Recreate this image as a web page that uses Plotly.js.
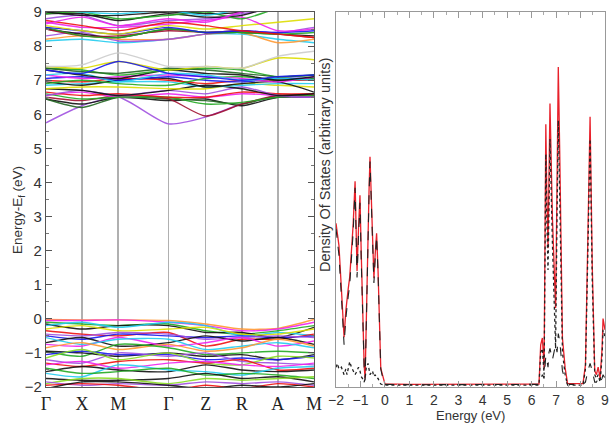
<!DOCTYPE html>
<html>
<head>
<meta charset="utf-8">
<script src="https://cdn.plot.ly/plotly-3.0.1.min.js"></script>
<style>html,body{margin:0;padding:0;background:#fff}#chart{width:611px;height:424px}</style>
</head>
<body>
<div id="chart"></div>
<script>
// High-symmetry k-path
const kLabels = ['Γ','X','M','Γ','Z','R','A','M'];
const kPos = [0, 1, 2, 3.39, 4.42, 5.42, 6.42, 7.42];

// Valence bands (eV) at Γ X M Γ Z R A M
const valenceBands = [
  [-0.02,-0.03,-0.03,-0.05,-0.15,-0.30,-0.28,-0.02],
  [-0.05,-0.05,-0.03,-0.10,-0.20,-0.35,-0.30,-0.10],
  [-0.10,-0.15,-0.20,-0.15,-0.35,-0.45,-0.35,-0.20],
  [-0.15,-0.30,-0.20,-0.20,-0.40,-0.40,-0.55,-0.25],
  [-0.20,-0.10,-0.25,-0.10,-0.20,-0.50,-0.40,-0.50],
  [-0.30,-0.20,-0.35,-0.30,-0.25,-0.45,-0.45,-0.30],
  [-0.35,-0.45,-0.50,-0.40,-0.80,-0.60,-0.60,-0.45],
  [-0.50,-0.60,-0.45,-0.50,-0.55,-0.50,-0.55,-0.50],
  [-0.45,-0.50,-0.40,-0.45,-0.60,-0.55,-0.50,-0.55],
  [-0.70,-0.55,-0.80,-0.70,-0.50,-0.65,-0.55,-0.75],
  [-0.75,-0.80,-0.55,-0.80,-0.70,-0.55,-0.80,-0.65],
  [-0.55,-0.75,-0.60,-0.60,-0.90,-0.80,-0.70,-0.85],
  [-0.85,-0.70,-0.90,-0.75,-0.95,-0.85,-0.60,-0.80],
  [-0.95,-1.10,-0.75,-0.85,-1.05,-1.00,-0.95,-1.00],
  [-0.95,-1.00,-1.10,-1.00,-1.10,-1.05,-1.20,-1.05],
  [-1.05,-0.95,-1.05,-1.05,-1.20,-1.15,-1.20,-1.10],
  [-1.20,-1.30,-1.00,-1.10,-1.00,-1.25,-1.30,-1.35],
  [-1.15,-0.90,-1.20,-1.00,-1.30,-1.35,-1.10,-1.15],
  [-1.30,-1.40,-1.25,-1.20,-1.30,-1.20,-1.50,-1.45],
  [-1.35,-1.25,-1.45,-1.30,-1.25,-1.35,-1.40,-1.30],
  [-1.55,-1.40,-1.50,-1.55,-1.35,-1.50,-1.55,-1.50],
  [-1.60,-1.70,-1.35,-1.50,-1.55,-1.65,-1.45,-1.40],
  [-1.45,-1.60,-1.55,-1.45,-1.65,-1.60,-1.65,-1.75],
  [-1.75,-1.80,-1.80,-1.75,-1.60,-1.75,-1.70,-1.85],
  [-1.90,-1.75,-1.75,-1.90,-1.75,-1.80,-1.75,-1.70],
  [-1.85,-1.95,-1.90,-1.95,-1.85,-1.90,-1.85,-1.95],
  [-1.95,-1.90,-1.95,-2.10,-1.95,-2.05,-1.90,-2.00],
  [-2.05,-1.85,-1.85,-1.95,-2.05,-1.95,-2.00,-1.90]
];
const valenceColors = ['orange','magenta','green','black','cyan','yellow','red','blue','purple','black',
  'magenta','cyan','orange','green','black','blue','purple','lime','red','magenta',
  'black','cyan','green','black','lime','purple','red','black'];

// Conduction bands (eV) at Γ X M Γ Z R A M
const conductionBands = [
  [5.75,6.25,6.50,5.72,5.92,6.30,6.50,6.50],
  [6.45,6.30,6.50,6.40,6.45,6.25,6.50,6.50],
  [6.45,6.20,6.50,6.45,6.40,6.30,6.55,6.55],
  [6.50,6.40,6.55,6.45,5.95,6.30,6.55,6.55],
  [6.55,6.65,6.50,6.60,6.50,6.60,6.55,6.50],
  [6.60,6.45,6.50,6.50,6.30,6.35,6.50,6.55],
  [6.65,6.55,6.60,6.50,6.50,6.65,6.60,6.60],
  [6.55,6.70,6.55,6.70,6.60,6.80,6.55,6.50],
  [6.75,6.70,6.55,6.70,6.85,6.75,6.55,6.60],
  [6.75,6.80,6.80,6.75,6.75,6.90,6.85,6.80],
  [6.85,6.90,6.95,6.95,6.80,6.85,6.90,6.90],
  [6.95,6.85,7.00,7.05,6.80,6.90,6.95,6.65],
  [7.00,6.95,7.05,7.00,6.90,7.00,7.00,7.00],
  [7.05,7.10,7.00,7.10,7.00,6.95,7.05,7.05],
  [6.90,7.00,6.90,6.85,7.05,7.10,7.00,7.05],
  [7.15,7.05,7.10,7.15,7.10,7.05,6.95,7.10],
  [7.15,7.20,6.95,7.20,7.15,7.00,7.05,7.00],
  [7.30,7.15,7.05,7.30,7.20,7.15,7.00,7.10],
  [7.35,7.30,7.15,7.30,7.35,7.30,7.10,7.15],
  [7.35,7.25,7.20,7.35,7.30,7.20,7.10,7.15],
  [7.40,7.35,7.55,7.30,7.40,7.35,7.65,7.60],
  [7.30,7.20,7.55,7.20,7.10,7.00,7.10,7.15],
  [7.40,7.45,7.80,7.40,7.40,7.35,7.70,7.85],
  [8.15,8.20,8.10,8.20,8.35,8.35,8.20,8.10],
  [8.20,8.30,8.20,8.20,8.35,8.40,8.10,8.20],
  [8.30,8.40,8.15,8.20,8.35,8.45,8.40,8.55],
  [8.50,8.35,8.25,8.50,8.40,8.40,8.35,8.30],
  [8.50,8.30,8.30,8.45,8.40,8.45,8.35,8.25],
  [8.55,8.30,8.25,8.50,8.40,8.40,8.35,8.40],
  [8.55,8.45,8.35,8.55,8.40,8.45,8.40,8.45],
  [8.60,8.45,8.35,8.60,8.50,8.60,8.70,8.80],
  [8.70,8.55,8.55,8.65,8.75,8.85,8.45,8.50],
  [8.75,8.60,8.45,8.70,8.60,8.45,8.35,8.25],
  [8.80,8.90,8.60,8.75,8.80,8.95,9.10,9.20],
  [8.95,8.95,8.75,8.95,8.85,8.90,9.20,9.30],
  [8.95,9.00,8.80,8.90,9.00,8.80,9.10,9.20],
  [9.00,8.90,8.90,9.00,8.95,9.00,9.30,9.20],
  [9.10,9.00,8.95,9.05,8.90,9.10,9.30,9.30],
  [8.65,8.85,8.60,8.80,8.70,9.00,9.20,9.30]
];
const conductionColors = ['purple','black','darkgreen','darkred','magenta','green','red','purple','black','yellow',
  'cyan','black','red','blue','green','magenta','cyan','black','green','darkgreen',
  'yellow','blue','lightgray','cyan','orange','purple','black','darkred','green','blue',
  'yellow','magenta','red','purple','black','green','black','cyan','magenta'];

// Density of states (arbitrary units)
const dosEnergy = [-2,-1.94,-1.88,-1.78,-1.67,-1.6,-1.55,-1.5,-1.44,-1.37,-1.3,-1.22,-1.18,-1.14,-1.08,-1.02,-0.97,-0.92,-0.85,-0.81,-0.76,-0.69,-0.65,-0.61,-0.56,-0.51,-0.45,-0.4,-0.34,-0.28,-0.22,-0.17,-0.12,-0.08,0,1,2,3,4,5,6,6.3,6.37,6.44,6.51,6.58,6.62,6.67,6.71,6.75,6.85,6.98,7.04,7.09,7.15,7.2,7.26,7.37,7.47,8.1,8.2,8.3,8.39,8.48,8.58,8.65,8.72,8.8,8.88,8.92,9];
const dosTotal = [0.435,0.40,0.376,0.26,0.13,0.20,0.243,0.26,0.29,0.36,0.43,0.547,0.42,0.307,0.42,0.51,0.36,0.22,0.056,0.02,0.20,0.395,0.52,0.613,0.50,0.395,0.288,0.35,0.408,0.307,0.17,0.048,0.035,0.027,0.005,0.004,0.004,0.004,0.004,0.004,0.004,0.005,0.11,0.128,0.048,0.70,0.52,0.368,0.56,0.755,0.45,0.208,0.55,0.853,0.62,0.41,0.128,0.048,0.006,0.006,0.056,0.40,0.72,0.32,0.04,0.03,0.05,0.02,0.10,0.18,0.15];
const dosOxygen = [0.42,0.38,0.35,0.24,0.11,0.18,0.22,0.24,0.27,0.34,0.41,0.53,0.40,0.29,0.40,0.49,0.34,0.21,0.05,0.015,0.19,0.38,0.51,0.60,0.49,0.38,0.275,0.34,0.40,0.30,0.165,0.045,0.03,0.02,0.004,0.003,0.003,0.003,0.003,0.003,0.003,0.004,0.02,0.03,0.02,0.08,0.07,0.05,0.09,0.10,0.07,0.11,0.09,0.14,0.12,0.08,0.04,0.015,0.004,0.004,0.01,0.04,0.06,0.04,0.01,0.01,0.02,0.01,0.02,0.03,0.02];
const dosMetal = [0.05,0.06,0.045,0.05,0.03,0.045,0.03,0.05,0.065,0.05,0.04,0.03,0.035,0.04,0.05,0.04,0.025,0.02,0.01,0.02,0.05,0.06,0.045,0.03,0.035,0.04,0.025,0.03,0.02,0.02,0.01,0.005,0.004,0.003,0.002,0.002,0.002,0.002,0.002,0.002,0.002,0.002,0.09,0.10,0.03,0.62,0.45,0.31,0.47,0.66,0.38,0.10,0.46,0.71,0.50,0.33,0.09,0.03,0.002,0.002,0.045,0.36,0.66,0.28,0.03,0.02,0.03,0.01,0.08,0.15,0.13];

const palette = {black:'#111111', red:'#ee1111', green:'#22aa22', blue:'#1a1aee', cyan:'#22ccee',
  magenta:'#ee22ee', yellow:'#dddd00', orange:'#ff9933', purple:'#a050e0', darkred:'#a01030',
  lightgray:'#cccccc', lime:'#88dd22', darkgreen:'#226622'};

const traces = [];
const allBands = valenceBands.concat(conductionBands);
const allColors = valenceColors.concat(conductionColors);
allBands.forEach((b, i) => {
  traces.push({x: kPos, y: b, xaxis:'x', yaxis:'y', mode:'lines', type:'scatter',
    line:{color: palette[allColors[i]], width:1.4, shape:'spline', smoothing:0.7},
    opacity:0.9, hoverinfo:'skip', showlegend:false});
});
traces.push({x: dosEnergy, y: dosTotal, xaxis:'x2', yaxis:'y2', mode:'lines', type:'scatter',
  line:{color:'#e8202a', width:1.3}, showlegend:false});
traces.push({x: dosEnergy, y: dosOxygen, xaxis:'x2', yaxis:'y2', mode:'lines', type:'scatter',
  line:{color:'#222222', width:1.1, dash:'dash'}, showlegend:false});
traces.push({x: dosEnergy, y: dosMetal, xaxis:'x2', yaxis:'y2', mode:'lines', type:'scatter',
  line:{color:'#222222', width:1.3, dash:'dot'}, showlegend:false});

const sans = 'Liberation Sans, Arial, sans-serif';
const layout = {
  width:611, height:424,
  margin:{l:46, r:6, t:12, b:37},
  paper_bgcolor:'#fff', plot_bgcolor:'#fff',
  showlegend:false,
  xaxis:{domain:[0, 0.4794], range:[0, 7.42], tickvals:kPos, ticktext:kLabels,
    showgrid:true, gridcolor:'#b0b0b0', gridwidth:1.5, zeroline:false,
    showline:true, linecolor:'#555', linewidth:1.2, mirror:true, ticks:'',
    tickfont:{family:'Liberation Serif, Times New Roman, serif', size:18, color:'#222'}},
  yaxis:{domain:[0,1], range:[-2, 9], dtick:1, tick0:0, showgrid:false, zeroline:false,
    showline:true, linecolor:'#555', linewidth:1.2, mirror:'ticks',
    ticks:'inside', ticklen:6, tickcolor:'#555',
    minor:{ticks:'inside', dtick:0.5, ticklen:3, tickcolor:'#777'},
    tickfont:{family:sans, size:15, color:'#333'}},
  xaxis2:{domain:[0.5188, 1], range:[-2, 9], dtick:1, tick0:0, anchor:'y2', showgrid:false, zeroline:false,
    showline:true, linecolor:'#999', linewidth:1.2, mirror:'ticks',
    ticks:'inside', ticklen:6, tickcolor:'#999',
    minor:{ticks:'inside', dtick:0.5, ticklen:3, tickcolor:'#aaa'},
    tickfont:{family:sans, size:14, color:'#333'}},
  yaxis2:{domain:[0,1], range:[-0.003, 1.0], anchor:'x2', showgrid:false, zeroline:false,
    showline:true, linecolor:'#999', linewidth:1.2, mirror:true, ticks:'', showticklabels:false},
  annotations:[
    {text:'Energy-E<sub>f</sub> (eV)', xref:'paper', yref:'paper', x:-0.05, y:0.472,
     xanchor:'center', yanchor:'middle', textangle:-90, showarrow:false,
     font:{family:sans, size:13.5, color:'#333'}},
    {text:'Density Of States (arbitrary units)', xref:'paper', yref:'paper', x:0.4991, y:0.592,
     xanchor:'center', yanchor:'middle', textangle:-90, showarrow:false,
     font:{family:sans, size:14.5, color:'#333'}},
    {text:'Energy (eV)', xref:'paper', yref:'paper', x:0.7594, y:-0.0773,
     xanchor:'center', yanchor:'middle', showarrow:false, borderpad:0,
     font:{family:sans, size:13, color:'#333'}}
  ]
};
Plotly.newPlot('chart', traces, layout, {staticPlot:true, displayModeBar:false});
</script>
</body>
</html>
